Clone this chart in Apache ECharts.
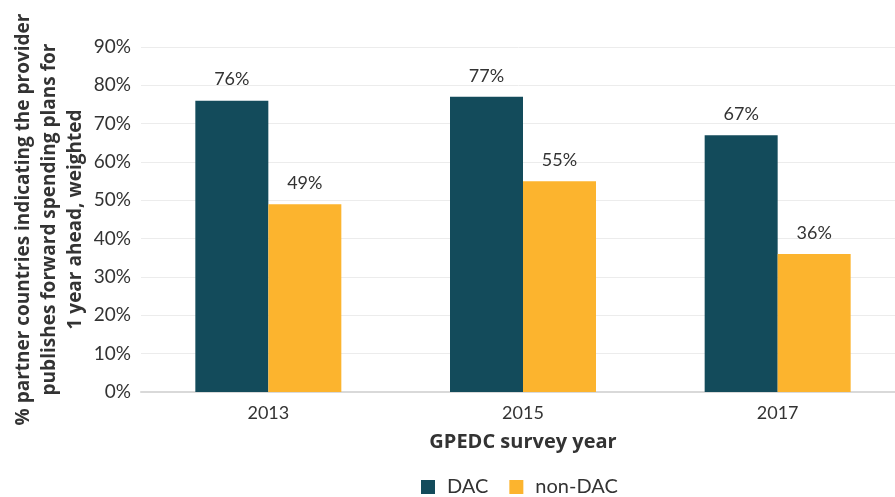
<!DOCTYPE html>
<html>
<head>
<meta charset="utf-8">
<script src="https://cdn.jsdelivr.net/npm/echarts@6/dist/echarts.min.js"></script>
<style>
  html, body { margin: 0; padding: 0; background: #fff; }
  #chart { width: 895px; height: 497px; }
</style>
</head>
<body>
<div id="chart"></div>
<script>
// Survey years and the share of partner countries reporting forward spending plans
const years = ['2013', '2015', '2017'];
const dacValues = [76, 77, 67];
const nonDacValues = [49, 55, 36];
const yTicks = { min: 0, max: 90, interval: 10 };

const FONT = 'Lato';
const TITLE_FONT = 'Open Sans';
const TEXT = '#333333';

const chart = echarts.init(document.getElementById('chart'));
chart.setOption({
  animation: false,
  textStyle: { fontFamily: FONT },
  grid: { left: 141, right: -10, top: 47, bottom: 105, containLabel: false, outerBoundsMode: 'none' },
  legend: {
    top: 472,
    left: 416,
    itemWidth: 14,
    itemHeight: 14,
    itemGap: 21,
    icon: 'rect',
    textStyle: { fontFamily: FONT, fontSize: 20, color: TEXT, padding: [0, 0, 0, 7] },
    data: ['DAC', 'non-DAC']
  },
  xAxis: {
    type: 'category',
    data: years,
    name: 'GPEDC survey year',
    nameLocation: 'middle',
    nameGap: 40,
    nameMoveOverlap: false,
    nameTextStyle: { fontFamily: TITLE_FONT, fontSize: 20, fontWeight: 'bold', color: TEXT },
    axisLine: { lineStyle: { color: '#d9d9d9', width: 2 } },
    axisTick: { show: false },
    axisLabel: { fontSize: 18, color: TEXT, margin: 12 }
  },
  yAxis: {
    type: 'value',
    min: yTicks.min,
    max: yTicks.max,
    interval: yTicks.interval,
    name: '% partner countries indicating the provider\npublishes forward spending plans for\n1 year ahead, weighted',
    nameLocation: 'middle',
    nameGap: 52,
    nameMoveOverlap: false,
    nameTextStyle: { fontFamily: TITLE_FONT, fontSize: 19, fontWeight: 'bold', color: TEXT, lineHeight: 26 },
    axisLine: { show: false },
    axisTick: { show: false },
    axisLabel: { fontSize: 19, color: TEXT, margin: 10, formatter: '{value}%' },
    splitLine: { lineStyle: { color: '#ececec', width: 1 } }
  },
  series: [
    {
      name: 'DAC',
      type: 'bar',
      data: dacValues,
      barWidth: 73,
      barGap: '0%',
      itemStyle: { color: '#134b5b' },
      label: { show: true, position: 'top', distance: 12, formatter: '{c}%', fontSize: 18, color: TEXT }
    },
    {
      name: 'non-DAC',
      type: 'bar',
      data: nonDacValues,
      barWidth: 73,
      barGap: '0%',
      itemStyle: { color: '#fcb42e' },
      label: { show: true, position: 'top', distance: 12, formatter: '{c}%', fontSize: 18, color: TEXT }
    }
  ]
});
</script>
</body>
</html>
